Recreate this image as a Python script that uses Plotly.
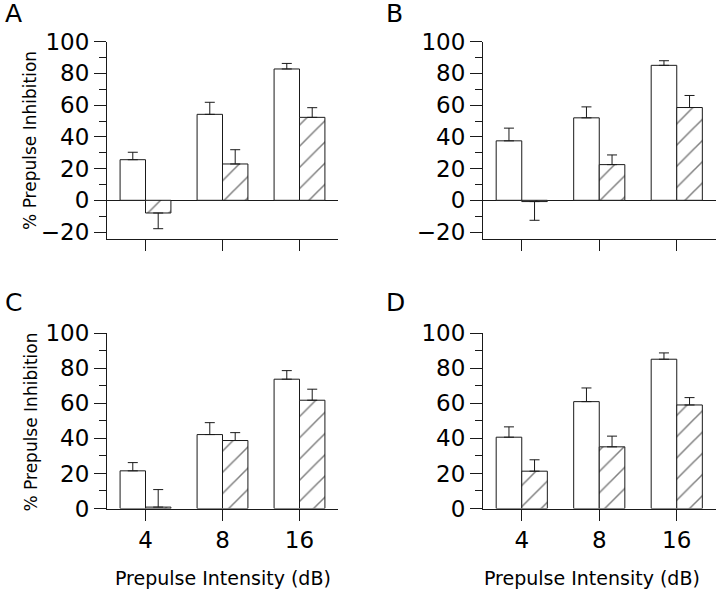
import plotly.graph_objects as go

categories = ["4", "8", "16"]

# panel A
a_open = [25.6, 54.2, 82.8]
a_open_err = [4.7, 7.6, 3.5]
a_hatch = [-8.0, 22.9, 52.3]
a_hatch_err = [9.9, 9.0, 6.1]

# panel B
b_open = [37.5, 52.0, 85.1]
b_open_err = [8.0, 6.9, 2.9]
b_hatch = [-0.8, 22.5, 58.5]
b_hatch_err = [11.8, 6.1, 7.6]

# panel C
c_open = [21.5, 42.2, 73.8]
c_open_err = [4.7, 6.8, 4.9]
c_hatch = [0.8, 38.8, 61.8]
c_hatch_err = [10.0, 4.5, 6.3]

# panel D
d_open = [40.7, 61.0, 85.2]
d_open_err = [5.9, 7.8, 3.6]
d_hatch = [21.3, 35.2, 59.1]
d_hatch_err = [6.5, 6.1, 4.2]

panels = [
    ("A", a_open, a_open_err, a_hatch, a_hatch_err),
    ("B", b_open, b_open_err, b_hatch, b_hatch_err),
    ("C", c_open, c_open_err, c_hatch, c_hatch_err),
    ("D", d_open, d_open_err, d_hatch, d_hatch_err),
]

INK = "#1a1a1a"
FONT = "DejaVu Sans"
W, H = 720, 590


def err_bars(vals, errs):
    # one-sided: away from zero
    plus = [e if v >= 0 else 0 for v, e in zip(vals, errs)]
    minus = [e if v < 0 else 0 for v, e in zip(vals, errs)]
    return dict(type="data", symmetric=False, array=plus, arrayminus=minus,
                color=INK, thickness=1, width=5)


fig = go.Figure()

# pixel boxes of the plot areas: (left, right, top, bottom)
boxes = {
    "A": (107, 338, 41.7, 239),
    "B": (483, 715.5, 41.7, 239),
    "C": (107, 338, 333.3, 508.5),
    "D": (483, 715.5, 333.3, 508.5),
}
letter_pos = {"A": (3, -3), "B": (384, -3), "C": (3, 286), "D": (384, 286)}

for i, (name, op, op_e, ha, ha_e) in enumerate(panels):
    n = "" if i == 0 else str(i + 1)
    fig.add_trace(go.Bar(
        x=categories, y=op, xaxis="x" + n, yaxis="y" + n,
        marker=dict(color="white", line=dict(color=INK, width=1)),
        error_y=err_bars(op, op_e), showlegend=False,
    ))
    fig.add_trace(go.Bar(
        x=categories, y=ha, xaxis="x" + n, yaxis="y" + n,
        marker=dict(color="white", line=dict(color=INK, width=1),
                    pattern=dict(shape="/", fgcolor="black", bgcolor="white",
                                 size=15, solidity=0.1)),
        error_y=err_bars(ha, ha_e), showlegend=False,
    ))

    l, r, t, b = boxes[name]
    bottom_row = name in ("C", "D")
    xa = dict(
        domain=[l / W, r / W], anchor="y" + n, type="category",
        range=[-0.5, 2.5], showline=True, linecolor=INK, linewidth=1,
        ticks="outside", ticklen=11, tickcolor=INK, showgrid=False,
        showticklabels=bottom_row, tickfont=dict(family=FONT, size=23, color="black"),
        zeroline=False, automargin=False,
    )
    ya = dict(
        domain=[1 - b / H, 1 - t / H], anchor="x" + n,
        range=[0, 100] if bottom_row else [-24.4, 100],
        dtick=20, showline=True, linecolor=INK, linewidth=1,
        ticks="outside", ticklen=12, tickcolor=INK, showgrid=False,
        tickfont=dict(family=FONT, size=23, color="black"),
        zeroline=not bottom_row, zerolinecolor=INK, zerolinewidth=1,
        minor=dict(dtick=10, ticks="outside", ticklen=7, tickcolor=INK, showgrid=False),
        automargin=False,
    )
    fig.update_layout({"xaxis" + n: xa, "yaxis" + n: ya})

    # panel letter
    lx, ly = letter_pos[name]
    fig.add_annotation(text=name, x=lx / W, y=1 - ly / H,
                       xref="paper", yref="paper", xanchor="left", yanchor="top",
                       showarrow=False, font=dict(family=FONT, size=25, color="black"))

# y titles
for yc in (140.4, 422):
    fig.add_annotation(text="% Prepulse Inhibition", textangle=-90,
                       x=30.5 / W, y=1 - yc / H, xref="paper", yref="paper",
                       xanchor="center", yanchor="middle", showarrow=False,
                       font=dict(family=FONT, size=17, color="black"))

# x titles
for xc in (222.5, 591.7):
    fig.add_annotation(text="Prepulse Intensity (dB)", x=xc / W, y=1 - 578 / H,
                       xref="paper", yref="paper", xanchor="center", yanchor="middle",
                       showarrow=False, font=dict(family=FONT, size=19, color="black"))

fig.update_layout(
    width=W, height=H, margin=dict(l=0, r=0, t=0, b=0, autoexpand=False),
    barmode="group", bargap=0.34, bargroupgap=0,
    paper_bgcolor="white", plot_bgcolor="white",
    font=dict(family=FONT, color="black"),
)

fig.write_html("out.html", config={"displayModeBar": False},
               post_script="document.body.style.margin='0';")
